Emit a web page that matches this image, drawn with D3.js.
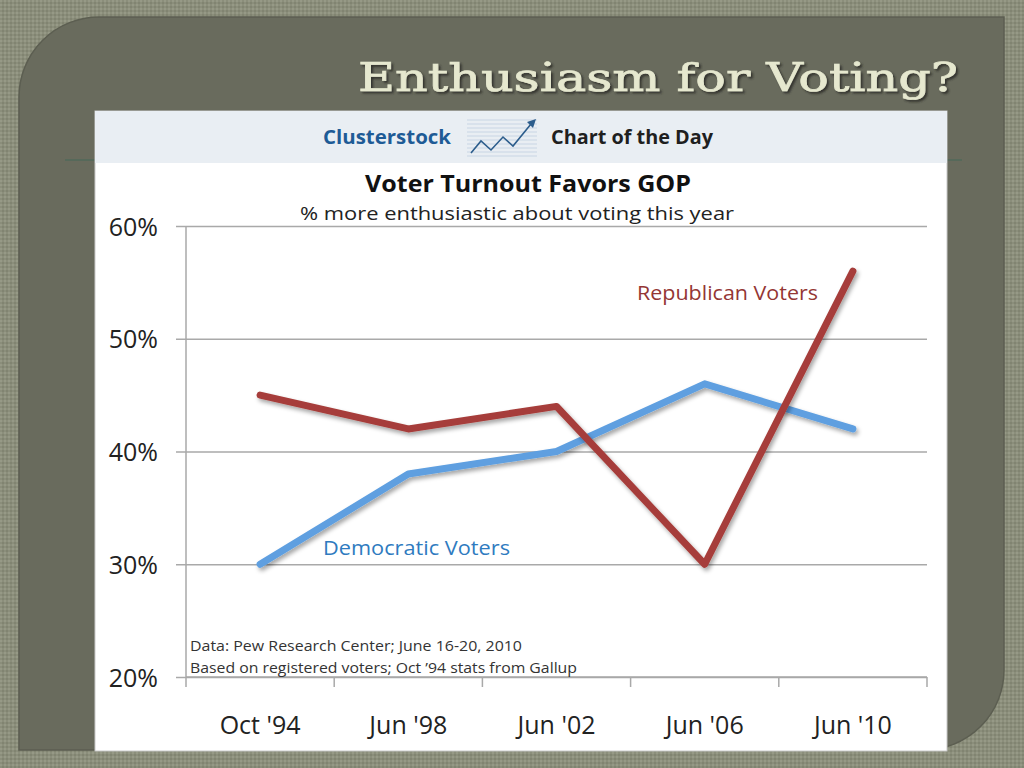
<!DOCTYPE html>
<html>
<head>
<meta charset="utf-8">
<script src="https://cdnjs.cloudflare.com/ajax/libs/d3/7.8.5/d3.min.js"></script>
<style>
  body { margin: 0; background: #8b8e7b; }
  svg { display: block; }
</style>
</head>
<body>
<svg id="svg" width="1024" height="768"></svg>
<script>
// data
var periods = ["Oct '94", "Jun '98", "Jun '02", "Jun '06", "Jun '10"];
var republican = [45, 42, 44, 30, 56];
var democratic = [30, 38, 40, 46, 42];
var yTicks = [20, 30, 40, 50, 60];

function draw() {
	var svg = d3.select("#svg");
	var font = "'Open Sans', 'DejaVu Sans', sans-serif";

	// textured slide background
	var defs = svg.append("defs");
	var pat = defs.append("pattern").attr("id", "tex")
		.attr("width", 4).attr("height", 4).attr("patternUnits", "userSpaceOnUse");
	pat.append("rect").attr("width", 4).attr("height", 4).attr("fill", "#8b8e7b");
	pat.append("rect").attr("width", 2).attr("height", 2).attr("fill", "#969986");
	pat.append("rect").attr("x", 2).attr("y", 2).attr("width", 2).attr("height", 2).attr("fill", "#818471");

	var shadow = defs.append("filter").attr("id", "shadow")
		.attr("x", "-10%").attr("y", "-10%").attr("width", "130%").attr("height", "130%");
	shadow.append("feDropShadow").attr("dx", 2).attr("dy", 3).attr("stdDeviation", 2)
		.attr("flood-color", "#000").attr("flood-opacity", 0.35);

	var titleShadow = defs.append("filter").attr("id", "tshadow");
	titleShadow.append("feDropShadow").attr("dx", 2).attr("dy", 2).attr("stdDeviation", 1.2)
		.attr("flood-color", "#2e2f27").attr("flood-opacity", 0.9);

	svg.append("rect").attr("width", 1024).attr("height", 768).attr("fill", "url(#tex)");

	// dark panel: rounded top-left and bottom-right corners
	var L = 19, T = 17, R = 1004, B = 750, r = 80;
	var panel = d3.path();
	panel.moveTo(L + r, T);
	panel.lineTo(R, T);
	panel.lineTo(R, B - r);
	panel.arcTo(R, B, R - r, B, r);
	panel.lineTo(L, B);
	panel.lineTo(L, T + r);
	panel.arcTo(L, T, L + r, T, r);
	panel.closePath();
	svg.append("path").attr("d", panel.toString())
		.attr("fill", "#696b5d").attr("stroke", "#5c5e51").attr("stroke-width", 1.5);

	// slide title
	svg.append("text")
		.attr("x", 958).attr("y", 91)
		.attr("text-anchor", "end")
		.attr("font-family", "'DejaVu Serif', serif")
		.attr("font-size", 40)
		.attr("textLength", 600).attr("lengthAdjust", "spacingAndGlyphs")
		.attr("fill", "#e6e8cf")
		.attr("stroke", "#e6e8cf").attr("stroke-width", 0.7)
		.attr("filter", "url(#tshadow)")
		.text("Enthusiasm for Voting?");

	// divider line on the slide
	svg.append("line").attr("x1", 65).attr("x2", 962).attr("y1", 160).attr("y2", 160)
		.attr("stroke", "#56695a").attr("stroke-width", 2);

	// chart picture
	svg.append("rect").attr("x", 95).attr("y", 111).attr("width", 852).attr("height", 640)
		.attr("fill", "#ffffff").attr("stroke", "#c9c9c9").attr("stroke-width", 1);
	svg.append("rect").attr("x", 95).attr("y", 111).attr("width", 852).attr("height", 52)
		.attr("fill", "#e9eef3");

	// header
	svg.append("text").attr("x", 323).attr("y", 144)
		.attr("font-family", font).attr("font-weight", "bold").attr("font-size", 19)
		.attr("textLength", 128).attr("lengthAdjust", "spacingAndGlyphs")
		.attr("fill", "#1e5b96").text("Clusterstock");
	svg.append("text").attr("x", 551).attr("y", 144)
		.attr("font-family", font).attr("font-weight", "bold").attr("font-size", 19)
		.attr("textLength", 162).attr("lengthAdjust", "spacingAndGlyphs")
		.attr("fill", "#1f1f1f").text("Chart of the Day");

	// logo icon
	var icon = svg.append("g");
	d3.range(120, 157, 4).forEach(function (yy) {
		icon.append("line").attr("x1", 467).attr("x2", 537).attr("y1", yy).attr("y2", yy)
			.attr("stroke", "#c8d5e4").attr("stroke-width", 1);
	});
	icon.append("path")
		.attr("d", "M471,153 L481,141 L491,150 L503,137 L513,146 L531,124")
		.attr("fill", "none").attr("stroke", "#2c5d8c").attr("stroke-width", 1.6);
	icon.append("path").attr("d", "M536,119 L527,122 L533,128 Z").attr("fill", "#2c5d8c");

	// titles
	svg.append("text").attr("x", 528).attr("y", 192).attr("text-anchor", "middle")
		.attr("font-family", font).attr("font-weight", "bold").attr("font-size", 24)
		.attr("textLength", 326).attr("lengthAdjust", "spacingAndGlyphs")
		.attr("fill", "#111").text("Voter Turnout Favors GOP");
	svg.append("text").attr("x", 517).attr("y", 220).attr("text-anchor", "middle")
		.attr("font-family", font).attr("font-size", 19)
		.attr("textLength", 434).attr("lengthAdjust", "spacingAndGlyphs")
		.attr("fill", "#222").text("% more enthusiastic about voting this year");

	// scales
	var x = d3.scalePoint().domain(periods).range([186, 927]).padding(0.5);
	var xBand = d3.scaleBand().domain(periods).range([186, 927]);
	var y = d3.scaleLinear().domain([20, 60]).range([677, 226]);

	// grid + y axis
	var gGrid = svg.append("g").attr("transform", "translate(186,0)")
		.call(d3.axisLeft(y).tickValues(yTicks).tickSize(-(927 - 186)).tickFormat(""));
	gGrid.select(".domain").remove();
	gGrid.selectAll(".tick line").attr("stroke", "#a9a9a9").attr("stroke-width", 1.5);

	var gY = svg.append("g").attr("transform", "translate(186,0)")
		.call(d3.axisLeft(y).tickValues(yTicks).tickSize(10).tickPadding(18)
			.tickFormat(function (d) { return d + "%"; }));
	gY.select(".domain").attr("d", "M0,226V687").attr("stroke", "#a9a9a9").attr("stroke-width", 1.5);
	gY.selectAll(".tick line").attr("stroke", "#a9a9a9").attr("stroke-width", 1.5);
	gY.selectAll("text").attr("font-family", font).attr("font-size", 25).attr("fill", "#222")
		.attr("dy", "0.36em");

	// x axis: ticks on category boundaries, labels centred
	var gX = svg.append("g").attr("transform", "translate(0,677)")
		.call(d3.axisBottom(xBand).tickSize(0).tickPadding(48));
	gX.select(".domain").attr("d", "M186,0H927").attr("stroke", "#a9a9a9").attr("stroke-width", 1.5);
	gX.selectAll("text").attr("font-family", font).attr("font-size", 25).attr("fill", "#222")
		.attr("dy", "0.36em");
	var bounds = periods.slice(1).map(function (p) { return xBand(p); }).concat([xBand.range()[1]]);
	gX.selectAll(".bound").data(bounds).enter().append("line")
		.attr("x1", function (d) { return d; }).attr("x2", function (d) { return d; })
		.attr("y1", 0).attr("y2", 10)
		.attr("stroke", "#a9a9a9").attr("stroke-width", 1.5);

	// notes
	svg.append("text").attr("x", 190).attr("y", 651)
		.attr("font-family", font).attr("font-size", 14)
		.attr("textLength", 332).attr("lengthAdjust", "spacingAndGlyphs")
		.attr("fill", "#333").text("Data: Pew Research Center; June 16-20, 2010");
	svg.append("text").attr("x", 190).attr("y", 673)
		.attr("font-family", font).attr("font-size", 14)
		.attr("textLength", 387).attr("lengthAdjust", "spacingAndGlyphs")
		.attr("fill", "#333").text("Based on registered voters; Oct \u201994 stats from Gallup");

	// lines
	var line = d3.line()
		.x(function (d, i) { return x(periods[i]); })
		.y(function (d) { return y(d); });

	svg.append("path").datum(democratic)
		.attr("d", line)
		.attr("fill", "none").attr("stroke", "#5e9fe0").attr("stroke-width", 7)
		.attr("stroke-linejoin", "round").attr("stroke-linecap", "round")
		.attr("filter", "url(#shadow)");

	svg.append("path").datum(republican)
		.attr("d", line)
		.attr("fill", "none").attr("stroke", "#a63e3a").attr("stroke-width", 7)
		.attr("stroke-linejoin", "round").attr("stroke-linecap", "round")
		.attr("filter", "url(#shadow)");

	// series labels
	svg.append("text").attr("x", 637).attr("y", 300)
		.attr("font-family", font).attr("font-size", 20)
		.attr("textLength", 181).attr("lengthAdjust", "spacingAndGlyphs")
		.attr("fill", "#943634").text("Republican Voters");
	svg.append("text").attr("x", 323).attr("y", 555)
		.attr("font-family", font).attr("font-size", 20)
		.attr("textLength", 187).attr("lengthAdjust", "spacingAndGlyphs")
		.attr("fill", "#2f7bbf").text("Democratic Voters");
}
draw();
</script>
</body>
</html>
